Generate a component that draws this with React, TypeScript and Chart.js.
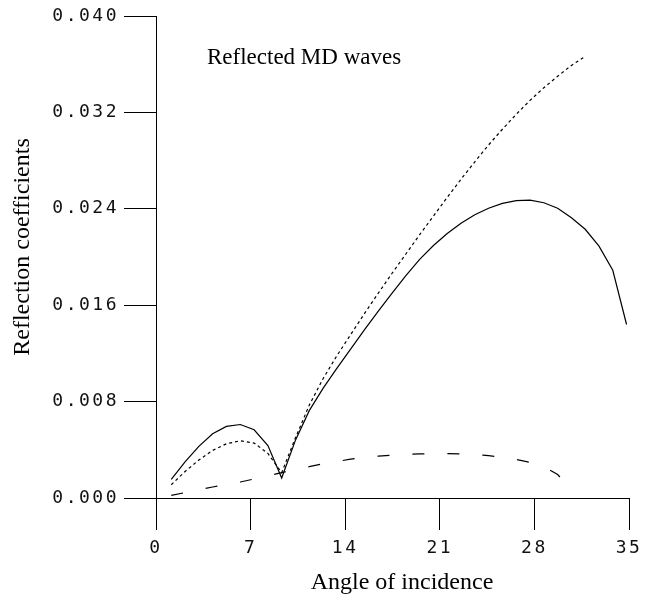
import React, { useEffect, useRef } from "react";
import { Chart, registerables } from "chart.js";

Chart.register(...registerables);

const angles = [
  1.13, 2.15, 3.17, 4.19, 5.21, 6.24, 7.26, 8.28, 9.3, 10.32, 11.34, 12.36,
  13.38, 14.4, 15.42, 16.45, 17.47, 18.49, 19.51, 20.53, 21.55, 22.57, 23.59,
  24.61, 25.63, 26.66, 27.68, 28.7, 29.72, 30.74, 31.76, 32.78, 33.8, 34.82,
];

const solidValues = [
  0.00155, 0.003, 0.00428, 0.00533, 0.00594, 0.0061, 0.00566, 0.00435, 0.00166,
  0.0048, 0.00725, 0.0091, 0.01075, 0.01235, 0.01395, 0.0155, 0.017, 0.01845,
  0.0198, 0.02095, 0.02195, 0.0228, 0.0235, 0.02405, 0.02445, 0.02468, 0.02472,
  0.0245, 0.02405, 0.02325, 0.0223, 0.0209, 0.0189, 0.0144,
];

const dottedAngles = [
  1.13, 2.15, 3.17, 4.19, 5.21, 6.24, 7.26, 8.28, 9.3, 10.32, 11.34, 12.36,
  13.38, 14.4, 15.42, 16.45, 17.47, 18.49, 19.51, 20.53, 21.55, 22.57, 23.59,
  24.61, 25.63, 26.66, 27.68, 28.7, 29.72, 30.74, 31.76,
];

const dottedValues = [
  0.0011, 0.0022, 0.00315, 0.00395, 0.0045, 0.00475, 0.00456, 0.0037, 0.0021,
  0.005, 0.0077, 0.0099, 0.0118, 0.01355, 0.0153, 0.017, 0.01865, 0.02025,
  0.02185, 0.0234, 0.02495, 0.02645, 0.0279, 0.0293, 0.0306, 0.03185, 0.033,
  0.03405, 0.035, 0.0359, 0.03665,
];

const dashedAngles = [
  1.13, 2.15, 3.17, 4.19, 5.21, 6.24, 7.26, 8.28, 9.3, 10.32, 11.34, 12.36,
  13.38, 14.4, 15.42, 16.45, 17.47, 18.49, 19.51, 20.53, 21.55, 22.57, 23.59,
  24.61, 25.63, 26.66, 27.68, 28.7, 29.72, 30.4,
];

const dashedValues = [
  0.00022, 0.00045, 0.00068, 0.00091, 0.00112, 0.00133, 0.00158, 0.00184,
  0.0021, 0.00235, 0.0026, 0.00285, 0.00303, 0.00322, 0.00336, 0.00347,
  0.00355, 0.00361, 0.00366, 0.00368, 0.00368, 0.00366, 0.00361, 0.00352,
  0.00338, 0.0032, 0.00295, 0.0026, 0.00195, 0.0011,
];

const xTickValues = [0, 7, 14, 21, 28, 35];
const yTickValues = [0, 0.008, 0.016, 0.024, 0.032, 0.04];

const chartTitle = "Reflected MD waves";
const xTitle = "Angle of incidence";
const yTitle = "Reflection coefficients";

const toPoints = (xs: number[], ys: number[]) =>
  ys.map((y, i) => ({ x: xs[i], y }));

export default function App() {
  const ref = useRef<HTMLCanvasElement | null>(null);

  useEffect(() => {
    if (!ref.current) return;
    const serif = '"Liberation Serif", "Times New Roman", serif';

    const textPlugin = {
      id: "texts",
      beforeDraw(chart: any) {
        chart.ctx.letterSpacing = "2.5px";
      },
      beforeDatasetsDraw(chart: any) {
        chart.ctx.letterSpacing = "0px";
      },
      afterDraw(chart: any) {
        const ctx = chart.ctx;
        ctx.save();
        ctx.letterSpacing = "0px";
        ctx.fillStyle = "#000";
        ctx.textBaseline = "alphabetic";
        ctx.font = "23px " + serif;
        ctx.textAlign = "left";
        ctx.fillText(chartTitle, 207, 64);
        ctx.font = "24px " + serif;
        ctx.textAlign = "center";
        ctx.fillText(xTitle, 402, 589);
        ctx.translate(29, 247);
        ctx.rotate(-Math.PI / 2);
        ctx.fillText(yTitle, 0, 0);
        ctx.restore();
      },
    };

    const tickFont = { family: '"DejaVu Sans Mono", monospace', size: 18 };

    const chart = new Chart(ref.current, {
      type: "line",
      data: {
        datasets: [
          {
            data: toPoints(angles, solidValues),
            borderColor: "#000",
            borderWidth: 1.2,
            pointRadius: 0,
            tension: 0,
          },
          {
            data: toPoints(dottedAngles, dottedValues),
            borderColor: "#000",
            borderWidth: 1.2,
            borderDash: [3, 3],
            pointRadius: 0,
            tension: 0,
          },
          {
            data: toPoints(dashedAngles, dashedValues),
            borderColor: "#000",
            borderWidth: 1.2,
            borderDash: [12, 23],
            pointRadius: 0,
            tension: 0,
          },
        ],
      },
      options: {
        animation: false,
        responsive: true,
        maintainAspectRatio: false,
        layout: { padding: { left: 0, right: 35, top: 16, bottom: 0 } },
        plugins: {
          legend: { display: false },
          tooltip: { enabled: false },
          title: { display: false },
        },
        scales: {
          x: {
            type: "linear",
            min: 0,
            max: 35,
            afterFit: (s: any) => {
              s.height = 106;
            },
            afterBuildTicks: (s: any) => {
              s.ticks = xTickValues.map((v) => ({ value: v }));
            },
            border: { display: true, color: "#000", width: 1 },
            grid: {
              drawOnChartArea: false,
              drawTicks: true,
              tickLength: 32,
              color: "#000",
              lineWidth: 1,
            },
            ticks: {
              color: "#111",
              padding: 8,
              maxRotation: 0,
              font: tickFont,
              callback: (v: any) => String(v),
            },
          },
          y: {
            type: "linear",
            min: 0,
            max: 0.04,
            afterFit: (s: any) => {
              s.width = 156;
            },
            afterBuildTicks: (s: any) => {
              s.ticks = yTickValues.map((v) => ({ value: v }));
            },
            border: { display: true, color: "#000", width: 1 },
            grid: {
              drawOnChartArea: false,
              drawTicks: true,
              tickLength: 32,
              color: "#000",
              lineWidth: 1,
            },
            ticks: {
              color: "#111",
              padding: 5,
              font: tickFont,
              callback: (v: any) => Number(v).toFixed(3),
            },
          },
        },
      },
      plugins: [textPlugin],
    });

    return () => chart.destroy();
  }, []);

  return (
    <div
      style={{
        position: "absolute",
        left: 0,
        top: 0,
        width: 664,
        height: 604,
        background: "#fff",
      }}
    >
      <canvas ref={ref} />
    </div>
  );
}
